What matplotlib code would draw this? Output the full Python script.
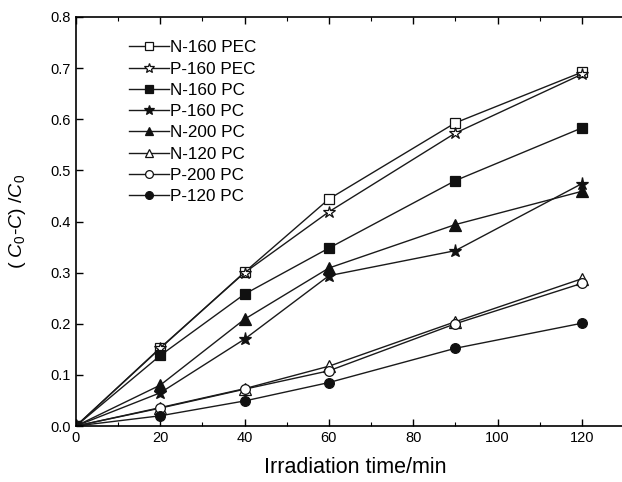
import matplotlib
matplotlib.use("Agg")
import matplotlib.pyplot as plt
from matplotlib.ticker import MultipleLocator, FormatStrFormatter

plt.rcParams['font.family'] = ['Liberation Sans', 'DejaVu Sans']
plt.rcParams['mathtext.fontset'] = 'custom'
plt.rcParams['mathtext.rm'] = 'Liberation Sans'
plt.rcParams['mathtext.it'] = 'Liberation Sans:italic'

time_min = [0, 20, 40, 60, 90, 120]
labels = ["N-160 PEC", "P-160 PEC", "N-160 PC", "P-160 PC",
          "N-200 PC", "N-120 PC", "P-200 PC", "P-120 PC"]
n160_pec = [0, 0.152, 0.301, 0.444, 0.593, 0.692]
p160_pec = [0, 0.153, 0.300, 0.419, 0.573, 0.688]
n160_pc = [0, 0.138, 0.258, 0.348, 0.480, 0.583]
p160_pc = [0, 0.065, 0.170, 0.294, 0.343, 0.474]
n200_pc = [0, 0.080, 0.209, 0.309, 0.394, 0.459]
n120_pc = [0, 0.036, 0.073, 0.117, 0.204, 0.288]
p200_pc = [0, 0.035, 0.072, 0.108, 0.200, 0.279]
p120_pc = [0, 0.020, 0.049, 0.085, 0.152, 0.201]
series = [n160_pec, p160_pec, n160_pc, p160_pc, n200_pc, n120_pc, p200_pc, p120_pc]
markers = ['s', '*', 's', '*', '^', '^', 'o', 'o']
filled = [False, False, True, True, True, False, False, True]
msizes = [6.5, 9, 6.5, 9.5, 8, 8, 7, 7]

fig = plt.figure(figsize=(6.22, 4.82), dpi=100)
ax = fig.add_axes([76/622, 56/482, 548/622, 409/482])

for y, lab, m, f, ms in zip(series, labels, markers, filled, msizes):
    ax.plot(time_min, y, color='#1a1a1a', lw=1.0, marker=m, ms=ms,
            markerfacecolor='#111111' if f else 'white',
            markeredgecolor='#111111', markeredgewidth=0.9, label=lab)

ax.set_xlim(0, 130)
ax.set_ylim(0, 0.8)
ax.xaxis.set_major_locator(MultipleLocator(20))
ax.xaxis.set_minor_locator(MultipleLocator(10))
ax.yaxis.set_major_locator(MultipleLocator(0.1))
ax.yaxis.set_major_formatter(FormatStrFormatter('%.1f'))
ax.tick_params(axis='both', which='major', direction='in', length=5, width=1,
               labelsize=10.5, top=True)
ax.tick_params(axis='both', which='minor', direction='in', length=3, width=0.8, top=True)
ax.tick_params(axis='y', which='minor', left=False)
ax.spines['right'].set_visible(False)
for s in ['left', 'bottom', 'top']:
    ax.spines[s].set_linewidth(1.2)

ax.set_xlabel('Irradiation time/min', fontsize=15.5, labelpad=7)
ax.xaxis.set_label_coords(0.51, -0.075)
ax.set_ylabel(r'$(\ C_{\mathit{0}}$-$C)\ /C_{\mathit{0}}$', fontsize=14, labelpad=16)

leg = ax.legend(loc='upper left', bbox_to_anchor=(0.085, 0.96), frameon=False,
                fontsize=12.3, handlelength=2.3, handletextpad=0.05,
                labelspacing=0.37, borderaxespad=0, markerscale=0.8)

fig.savefig('out.png', dpi=100)
